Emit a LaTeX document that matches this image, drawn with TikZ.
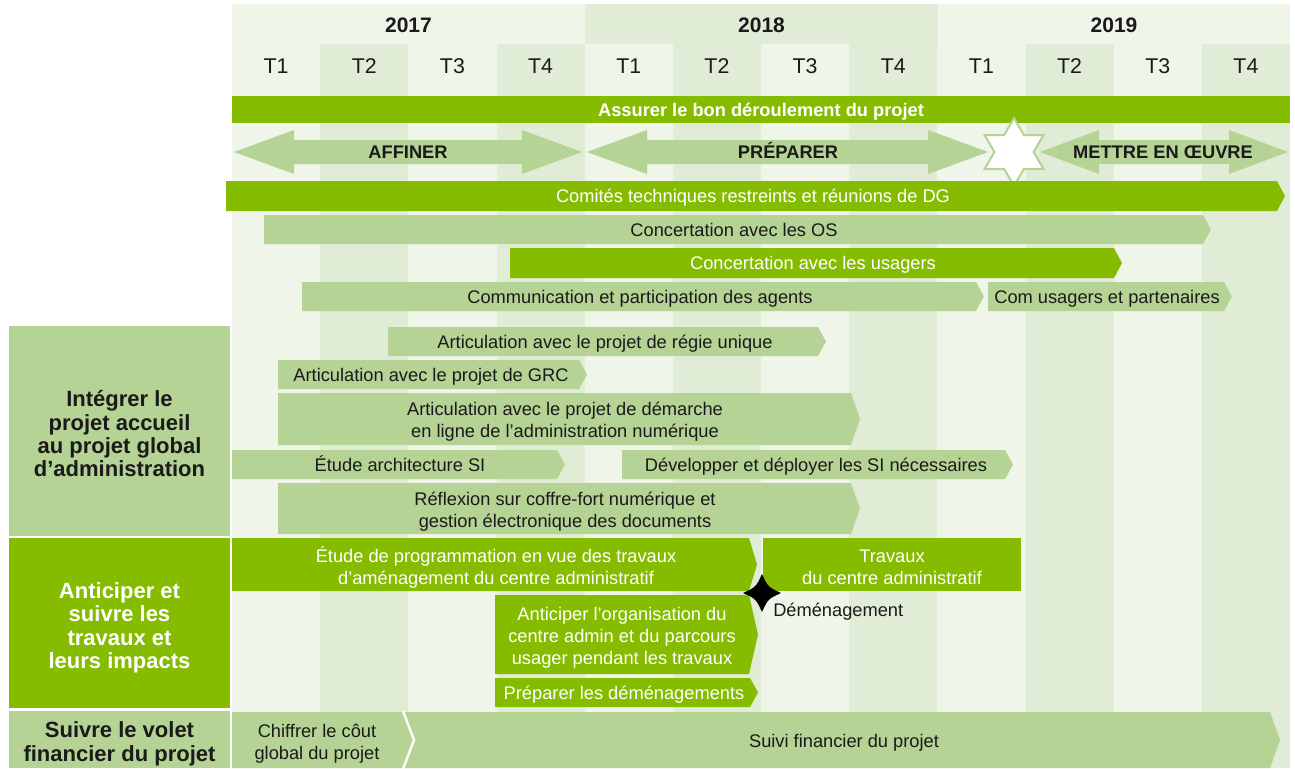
\documentclass[tikz,border=0pt]{standalone}
\usepackage{fontspec}
\setmainfont{Liberation Sans}
\usepackage{tikz}

\definecolor{bglight}{RGB}{239,245,233}
\definecolor{bgdark}{RGB}{224,236,214}
\definecolor{palegreen}{RGB}{181,211,149}
\definecolor{deepgreen}{RGB}{133,188,0}
\definecolor{ink}{RGB}{26,26,26}

\begin{document}
\begin{tikzpicture}[x=0.75pt,y=0.75pt,yscale=-1,xscale=1,
  palebar/.style={fill=palegreen},
  deepbar/.style={fill=deepgreen},
  bartext/.style={inner sep=0pt,text height=9.8pt,text depth=0pt,align=center,text=ink,
    font=\fontsize{13.7}{16.5}\selectfont},
  bartextw/.style={bartext,text=white},
  blocktext/.style={inner sep=0pt,align=center,text=ink,yshift=-2.3pt,
    font=\fontsize{13.7}{16.5}\selectfont},
  blocktextw/.style={blocktext,text=white},
  boldtext/.style={bartext,font=\bfseries\fontsize{13.7}{16.5}\selectfont},
  yeartext/.style={inner sep=0pt,text height=11.3pt,text depth=0pt,text=ink,
    font=\bfseries\fontsize{15.75}{18}\selectfont},
  qtext/.style={inner sep=0pt,text height=11.5pt,text depth=0pt,text=ink,
    font=\fontsize{16}{18}\selectfont},
  axistext/.style={inner sep=0pt,align=center,text=ink,yshift=-2.8pt,
    font=\bfseries\fontsize{16.5}{17.5}\selectfont},
  axistextw/.style={axistext,text=white}
]
\useasboundingbox (0,0) rectangle (1295,768);

%Shape: Grid background
\fill [bglight] (232,4) rectangle (1290,768);
\fill [bgdark] (585,4) rectangle (938,44);
\foreach \i in {1,3,...,11}
  \fill [bgdark] ({232+88.1667*\i},44) rectangle ({232+88.1667*(\i+1)},768);

% Text Node
\draw (408.5,24.5) node [yeartext] (y2017) {2017};
% Text Node
\draw (761.5,24.5) node [yeartext] (y2018) {2018};
% Text Node
\draw (1114,24.5) node [yeartext] (y2019) {2019};
\foreach \i [evaluate=\i as \q using {int(mod(\i,4)+1)}] in {0,...,11}
  \draw ({232+88.1667*(\i+0.5)},66) node [qtext] (q\i) {T\q};

%Shape: Rectangle
\fill [deepbar] (232,96) rectangle (1290,123);
% Text Node
\draw (761,109.5) node [boldtext,text=white] (assurer) {Assurer le bon déroulement du projet};

%Shape: Double Arrow
\fill [palebar] (234,152) -- (294,130) -- (294,140) -- (522,140) -- (522,130) -- (582,152) -- (522,174) -- (522,164) -- (294,164) -- (294,174) -- cycle ;
%Shape: Double Arrow
\fill [palebar] (587,152) -- (647,130) -- (647,140) -- (928,140) -- (928,130) -- (988,152) -- (928,174) -- (928,164) -- (647,164) -- (647,174) -- cycle ;
%Shape: Double Arrow
\fill [palebar] (1040,152) -- (1099,130) -- (1099,140) -- (1229,140) -- (1229,130) -- (1288,152) -- (1229,174) -- (1229,164) -- (1099,164) -- (1099,174) -- cycle ;
%Shape: Star
\draw [fill=white,draw=palegreen,line width=1.5pt,line join=miter] (1014,118) -- (1023.8,135) -- (1043.4,135) -- (1033.6,152) -- (1043.4,169) -- (1023.8,169) -- (1014,186) -- (1004.2,169) -- (984.6,169) -- (994.4,152) -- (984.6,135) -- (1004.2,135) -- cycle ;
% Text Node
\draw (408,152) node [boldtext] (affiner) {AFFINER};
% Text Node
\draw (788,152) node [boldtext] (preparer) {PRÉPARER};
% Text Node
\draw (1163,152) node [boldtext] (mettre) {METTRE EN ŒUVRE};

%Shape: Arrow Bar
\fill [deepbar] (226,181) -- (1277,181) -- (1285,196) -- (1277,211) -- (226,211) -- cycle ;
% Text Node
\draw (753,196) node [bartextw] (comites) {Comités techniques restreints et réunions de DG};
%Shape: Arrow Bar
\fill [palebar] (264,215) -- (1203,215) -- (1211,229.5) -- (1203,244) -- (264,244) -- cycle ;
% Text Node
\draw (734,229.5) node [bartext] (concos) {Concertation avec les OS};
%Shape: Arrow Bar
\fill [deepbar] (510,248) -- (1114,248) -- (1122,263) -- (1114,278) -- (510,278) -- cycle ;
% Text Node
\draw (813,263) node [bartextw] (concusagers) {Concertation avec les usagers};
%Shape: Arrow Bar
\fill [palebar] (302,282) -- (976,282) -- (984,296.5) -- (976,311) -- (302,311) -- cycle ;
% Text Node
\draw (640,296.5) node [bartext] (comagents) {Communication et participation des agents};
%Shape: Arrow Bar
\fill [palebar] (988,282) -- (1224,282) -- (1232,296.5) -- (1224,311) -- (988,311) -- cycle ;
% Text Node
\draw (1107,296.5) node [bartext] (comusagers) {Com usagers et partenaires};

%Shape: Rectangle
\fill [palebar] (9,326) rectangle (230,536);
% Text Node
\draw (119.5,430) node [axistext] (integrer) {Intégrer le\\projet accueil\\au projet global\\d’administration};
%Shape: Rectangle
\fill [deepbar] (9,538) rectangle (230,708);
% Text Node
\draw (119.5,624) node [axistextw] (anticiper) {Anticiper et\\suivre les\\travaux et\\leurs impacts};
%Shape: Rectangle
\fill [palebar] (9,711) rectangle (230,768);
% Text Node
\draw (119.5,740) node [axistext] (financier) {Suivre le volet\\financier du projet};

%Shape: Arrow Bar
\fill [palebar] (388,327) -- (818,327) -- (826,341.5) -- (818,356) -- (388,356) -- cycle ;
% Text Node
\draw (605,341.5) node [bartext] (regie) {Articulation avec le projet de régie unique};
%Shape: Arrow Bar
\fill [palebar] (278,360) -- (579,360) -- (587,374.5) -- (579,389) -- (278,389) -- cycle ;
% Text Node
\draw (431,374.5) node [bartext] (grc) {Articulation avec le projet de GRC};
%Shape: Arrow Bar
\fill [palebar] (278,393) -- (851,393) -- (860,419) -- (851,445) -- (278,445) -- cycle ;
% Text Node
\draw (565,419) node [blocktext] (demarche) {Articulation avec le projet de démarche\\en ligne de l’administration numérique};
%Shape: Arrow Bar
\fill [palebar] (232,450) -- (557,450) -- (565,464.5) -- (557,479) -- (232,479) -- cycle ;
% Text Node
\draw (400,464.5) node [bartext] (etudesi) {Étude architecture SI};
%Shape: Arrow Bar
\fill [palebar] (622,450) -- (1005,450) -- (1013,464.5) -- (1005,479) -- (622,479) -- cycle ;
% Text Node
\draw (816,464.5) node [bartext] (deployer) {Développer et déployer les SI nécessaires};
%Shape: Arrow Bar
\fill [palebar] (278,483) -- (851,483) -- (860,508.5) -- (851,534) -- (278,534) -- cycle ;
% Text Node
\draw (565,508.5) node [blocktext] (coffre) {Réflexion sur coffre-fort numérique et\\gestion électronique des documents};

%Shape: Arrow Bar
\fill [deepbar] (232,538) -- (749,538) -- (757,564.5) -- (749,591) -- (232,591) -- cycle ;
% Text Node
\draw (496,564.5) node [blocktextw] (programmation) {Étude de programmation en vue des travaux\\d’aménagement du centre administratif};
%Shape: Rectangle
\fill [deepbar] (763,538) rectangle (1021,591);
% Text Node
\draw (892,564.5) node [blocktextw] (travaux) {Travaux\\du centre administratif};
%Shape: Arrow Bar
\fill [deepbar] (495,595) -- (749,595) -- (758,634.5) -- (749,674) -- (495,674) -- cycle ;
% Text Node
\draw (622,634.5) node [blocktextw] (organisation) {Anticiper l’organisation du\\centre admin et du parcours\\usager pendant les travaux};
%Shape: Arrow Bar
\fill [deepbar] (495,678) -- (750,678) -- (758,692.5) -- (750,707) -- (495,707) -- cycle ;
% Text Node
\draw (624,692.5) node [bartextw] (demenager) {Préparer les déménagements};
%Shape: Star
\fill [black] (762,574) .. controls (768,587) .. (781,593) .. controls (768,599) .. (762,612) .. controls (756,599) .. (743,593) .. controls (756,587) .. cycle ;
% Text Node
\draw (773,610) node [bartext,anchor=west] (demenagement) {Déménagement};

%Shape: Arrow Bar
\fill [palebar] (232,712) -- (1270,712) -- (1280,740) -- (1270,768) -- (232,768) -- cycle ;
\draw [white,line width=1.8pt] (403,711) -- (414,740) -- (403,769) ;
% Text Node
\draw (317,741) node [blocktext] (chiffrer) {Chiffrer le côut\\global du projet};
% Text Node
\draw (844,741) node [bartext] (suivi) {Suivi financier du projet};

\end{tikzpicture}
\end{document}
